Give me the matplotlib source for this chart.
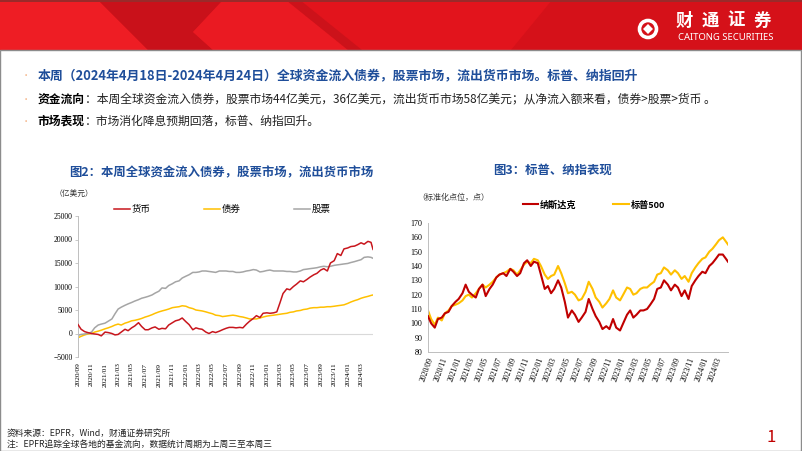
import matplotlib

matplotlib.use("Agg")
import matplotlib.pyplot as plt
import matplotlib.dates as mdates
import pandas as pd
from matplotlib.patches import Polygon, Rectangle, Ellipse

plt.rcParams["font.family"] = ["Noto Sans CJK SC", "DejaVu Sans"]

W, H = 802, 451

# ---- data (semi-monthly readings, last point = 2024-04-24) -----------------
dates = list(pd.date_range("2020-09-01", "2024-04-15", freq="SMS")) + [pd.Timestamp("2024-04-24")]

money = [1900, 900, 400, 200, 0, -100, -200, -500, 300, 200,
         0, -300, -200, 300, 900, 600, 1200, 1600, 2300, 1500,
         800, 800, 1200, 1400, 900, 1100, 1000, 1800, 2300, 2700,
         2900, 3300, 2500, 1900, 800, 1200, 1000, 900, 300, 0,
         400, 200, 500, 800, 1100, 1300, 1300, 1200, 1300, 1200,
         2000, 2600, 3200, 3800, 3400, 4300, 4400, 4300, 4400, 4600,
         6500, 8500, 9500, 9300, 10000, 10500, 11200, 11000, 11500, 12000,
         12500, 12800, 13500, 13800, 13300, 15000, 15500, 17000, 16600, 18000,
         18200, 18500, 18600, 18900, 19300, 19000, 19600, 19400, 17900]
bond = [-900, -600, -300, -100, 0, 300, 500, 700, 1000, 1200,
        1500, 1800, 2000, 1800, 2200, 2400, 2700, 2800, 3000, 3200,
        3500, 3700, 4000, 4300, 4600, 4800, 5000, 5200, 5500, 5600,
        5700, 5900, 5800, 5500, 5300, 5000, 4900, 4800, 4600, 4400,
        4200, 3900, 3800, 3600, 3700, 3800, 3900, 3800, 3600, 3500,
        3300, 3100, 3100, 3100, 3300, 3500, 3700, 3800, 3900, 4000,
        4100, 4200, 4300, 4500, 4600, 4800, 4900, 5100, 5200, 5400,
        5500, 5500, 5600, 5600, 5700, 5700, 5800, 5900, 6000, 6100,
        6400, 6700, 7000, 7200, 7500, 7700, 7900, 8100, 8200]
equity = [-400, -200, -100, 0, 300, 1200, 1800, 2000, 2200, 2600,
          3100, 4200, 5200, 5600, 6000, 6300, 6600, 6900, 7200, 7500,
          7700, 7900, 8200, 8600, 9000, 9700, 9600, 10200, 10600, 11000,
          11200, 11800, 12200, 12500, 13000, 13000, 13100, 13300, 13300, 13200,
          13100, 13000, 13300, 13300, 13300, 13200, 13200, 13000, 13000, 13100,
          13300, 13400, 13600, 13500, 13100, 13200, 13400, 13500, 13300, 13300,
          13300, 13300, 13200, 13200, 13100, 13100, 13300, 13600, 13700, 13800,
          13900, 14000, 14200, 14300, 14200, 14300, 14500, 14600, 14700, 14800,
          14900, 15100, 15300, 15500, 15700, 16200, 16300, 16200, 16000]

nasdaq = [105, 100, 97, 103, 104, 107, 108, 112, 115, 117,
          121, 127, 122, 120, 118, 124, 127, 119, 124, 127,
          132, 134, 135, 133, 138, 136, 133, 135, 142, 144,
          140, 143, 142, 134, 124, 126, 121, 124, 130, 125,
          115, 104, 109, 106, 101, 104, 108, 117, 110, 105,
          101, 96, 98, 96, 103, 97, 95, 100, 106, 109,
          104, 106, 109, 109, 110, 113, 117, 124, 125, 130,
          127, 123, 127, 125, 119, 123, 117, 126, 130, 133,
          136, 135, 140, 142, 145, 148, 148, 145, 143]
spx = [109, 103, 99, 104, 102, 107, 109, 112, 113, 114,
       116, 119, 120, 118, 121, 124, 127, 125, 127, 129,
       132, 134, 135, 136, 138, 137, 134, 137, 141, 143,
       142, 145, 144, 140, 134, 131, 133, 134, 140, 135,
       128, 121, 122, 120, 116, 117, 122, 129, 124, 118,
       115, 111, 114, 117, 123, 118, 116, 120, 125, 124,
       120, 121, 124, 125, 125, 127, 129, 134, 135, 139,
       137, 134, 137, 135, 131, 133, 129, 135, 139, 142,
       145, 146, 150, 152, 155, 158, 160, 157, 155]

tick_dates = pd.date_range("2020-09-01", "2024-03-01", freq="2MS")

RED = "#C8161D"
DRED = "#C00000"
YEL = "#FFC000"
GRAY = "#A5A5A5"
BLUE = "#1F4E9A"
SERIF = "Liberation Serif"


def fx(x):
    return x / W


def fy(y):
    return 1 - y / H


fig = plt.figure(figsize=(W / 100, H / 100), dpi=100)

# ---- header banner ----------------------------------------------------------
def poly(pts, color):
    fig.add_artist(Polygon([(fx(x), fy(y)) for x, y in pts], closed=True,
                           facecolor=color, edgecolor="none", transform=fig.transFigure))

poly([(0, 0), (802, 0), (802, 50), (0, 50)], "#E2141C")
poly([(0, 0), (98, 0), (148, 50), (0, 50)], "#EE1D24")
poly([(98, 0), (223, 0), (193, 32), (213, 50), (148, 50)], "#C9111A")
poly([(223, 0), (286, 0), (348, 50), (213, 50), (193, 32)], "#EA1A22")
poly([(286, 0), (300, 0), (362, 50), (348, 50)], "#CC121A")
poly([(552, 0), (802, 0), (802, 50), (511, 50)], "#D51119")
poly([(0, 0), (802, 0), (802, 2), (0, 2)], "#9A2A2A")

# logo
fig.add_artist(Ellipse((fx(648), fy(29)), 17 / W, 17 / H, transform=fig.transFigure,
                       facecolor="none", edgecolor="white", lw=2.6))
poly([(648, 24), (653, 29), (648, 34), (643, 29)], "white")
for ch, cx in zip("财通证券", [684, 710, 736, 762]):
    fig.text(fx(cx), fy(21), ch, color="white", fontsize=12.5, fontweight="bold",
             ha="center", va="center")
fig.text(fx(678), fy(37.5), "CAITONG SECURITIES", color="white", fontsize=6.8,
         ha="left", va="center", family=["Noto Sans", "DejaVu Sans"])

# slide frame
fig.add_artist(Rectangle((0.0006, 0.001), 0.9985, fy(50) - 0.001, transform=fig.transFigure,
                         facecolor="none", edgecolor="#8C8C8C", lw=1.0))

# ---- bullet text ------------------------------------------------------------
renderer = fig.canvas.get_renderer()


def rich(x, y, parts, size):
    for txt, weight, color in parts:
        t = fig.text(fx(x), fy(y), txt, fontsize=size, fontweight=weight, color=color,
                     ha="left", va="center")
        x = t.get_window_extent(renderer).x1


for yb in (76, 99, 121):
    fig.text(fx(26), fy(yb), "•", color="#F4B183", fontsize=6, ha="center", va="center")

rich(38, 76, [("本周（2024年4月18日-2024年4月24日）全球资金流入债券，股票市场，流出货币市场。标普、纳指回升",
               "bold", BLUE)], 9.3)
rich(38, 99, [("资金流向", "bold", "black"),
              ("：本周全球资金流入债券，股票市场44亿美元，36亿美元，流出货币市场58亿美元；从净流入额来看，债券>股票>货币 。",
               "normal", "#222222")], 8.5)
rich(38, 121, [("市场表现", "bold", "black"),
               ("：市场消化降息预期回落，标普、纳指回升。", "normal", "#222222")], 8.5)

# ---- chart titles -----------------------------------------------------------
fig.text(fx(221), fy(173), "图2：本周全球资金流入债券，股票市场，流出货币市场", color=BLUE,
         fontsize=8.9, fontweight="bold", ha="center", va="center")
fig.text(fx(553), fy(170), "图3：标普、纳指表现", color=BLUE,
         fontsize=8.9, fontweight="bold", ha="center", va="center")

# ---- chart 1: fund flows ------------------------------------------------------
ax1 = fig.add_axes([fx(78), fy(357), (373 - 78) / W, (357 - 216) / H])
ax1.plot(dates, money, color=RED, lw=1.1, label="货币", zorder=3)
ax1.plot(dates, bond, color=YEL, lw=1.1, label="债券", zorder=2)
ax1.plot(dates, equity, color=GRAY, lw=1.1, label="股票", zorder=2)
ax1.axhline(0, color="#D9D9D9", lw=0.8, zorder=1)
ax1.set_ylim(-5000, 25000)
ax1.set_yticks(range(-5000, 25001, 5000))
ax1.set_xlim(dates[0], dates[-1])
ax1.set_xticks(tick_dates)
ax1.xaxis.set_major_formatter(mdates.DateFormatter("%Y/%m"))
for s in ("top", "right", "bottom"):
    ax1.spines[s].set_visible(False)
ax1.spines["left"].set_color("#BFBFBF")
ax1.spines["left"].set_linewidth(0.7)
ax1.tick_params(axis="y", length=2, width=0.6, color="#BFBFBF", pad=2, labelsize=5.5)
ax1.tick_params(axis="x", length=0, pad=4, labelsize=5.3, labelrotation=90)
for lab in ax1.get_xticklabels() + ax1.get_yticklabels():
    lab.set_family(SERIF)
ax1.patch.set_alpha(0)
ax1.legend(loc="lower left", bbox_to_anchor=((112 - 78) / (373 - 78), 1.0),
           ncol=3, frameon=False, fontsize=6.8, handlelength=1.7, handletextpad=0.2,
           columnspacing=5.6, borderaxespad=0.2, borderpad=0)
fig.text(fx(55), fy(194), "（亿美元）", fontsize=5.6, ha="left", va="center", color="#333333")

# ---- chart 2: index performance ---------------------------------------------
ax2 = fig.add_axes([fx(428), fy(352), (728 - 428) / W, (352 - 223) / H])
ax2.plot(dates, spx, color=YEL, lw=1.5, label="标普500", zorder=2)
ax2.plot(dates, nasdaq, color=DRED, lw=1.5, label="纳斯达克", zorder=3)
ax2.set_ylim(80, 170)
ax2.set_yticks(range(80, 171, 10))
ax2.set_xlim(dates[0], dates[-1])
ax2.set_xticks(tick_dates)
ax2.xaxis.set_major_formatter(mdates.DateFormatter("%Y/%m"))
for s in ("top", "right"):
    ax2.spines[s].set_visible(False)
for s in ("left", "bottom"):
    ax2.spines[s].set_color("#BFBFBF")
    ax2.spines[s].set_linewidth(0.7)
ax2.tick_params(axis="y", length=0, pad=4, labelsize=5.8)
ax2.tick_params(axis="x", length=0, pad=3, labelsize=5.6)
for lab in ax2.get_xticklabels():
    lab.set_rotation(70)
    lab.set_ha("right")
    lab.set_rotation_mode("anchor")
for lab in ax2.get_xticklabels() + ax2.get_yticklabels():
    lab.set_family(SERIF)
ax2.patch.set_alpha(0)
h, l = ax2.get_legend_handles_labels()
ax2.legend(h[::-1], l[::-1], loc="lower left", bbox_to_anchor=((521 - 428) / (728 - 428), 1.09),
           ncol=2, frameon=False, handlelength=1.7, handletextpad=0.2,
           columnspacing=4.0, borderaxespad=0.2, borderpad=0, prop={"weight": "bold", "size": 6.6})
fig.text(fx(417), fy(198), "（标准化点位，点）", fontsize=5.8, ha="left", va="center", color="#333333")

# ---- footer -------------------------------------------------------------------
fig.text(fx(7), fy(433), "资料来源：EPFR，Wind，财通证券研究所", fontsize=6.3, ha="left", va="center",
         color="#222222")
fig.text(fx(7), fy(444), "注：EPFR追踪全球各地的基金流向，数据统计周期为上周三至本周三", fontsize=6.3,
         ha="left", va="center", color="#222222")
fig.text(fx(771), fy(438), "1", fontsize=12, color=DRED, ha="center", va="center")

fig.savefig("out.png", dpi=100)
